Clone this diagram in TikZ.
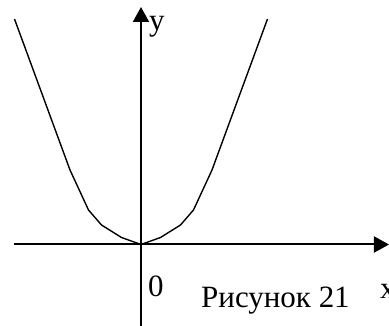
\documentclass[tikz,border=0pt]{standalone}
\usepackage{fontspec}
\setmainfont{Liberation Serif}
\usetikzlibrary{arrows.meta}

\begin{document}
\begin{tikzpicture}[x=1pt, y=1pt,
  axis/.style={-{Triangle[length=15pt, width=16pt]}, line width=2pt},
  curve/.style={line width=1.4pt, line join=round},
  lbl/.style={inner sep=0pt, anchor=base west, font=\fontsize{31}{36}\selectfont}
]
  \useasboundingbox (-141, -81.5) rectangle (248, 244.5);
  \coordinate (o) at (0, 0);
  \coordinate (xl) at (-127, 0);
  \coordinate (xr) at (248, 0);
  \coordinate (yb) at (0, -81.5);
  \coordinate (yt) at (0, 237.5);
  \draw[axis] (xl) -- (xr);
  \draw[axis] (yb) -- (yt);
  % graph
  \draw[curve] (-126.5, 225.5) -- (-71, 74.5) -- (-52.5, 34.5) -- (-39.5, 19.5) -- (-19.5, 7) -- (o)
    -- (19.5, 7) -- (39.5, 19.5) -- (52.5, 34.5) -- (71, 74.5) -- (126.5, 225.5);
  \node[lbl] (ylabel) at (8, 213.5) {y};
  \node[lbl] (zero) at (7, -52.5) {0};
  \node[lbl] (caption) at (60, -63.5) {Рисунок 21};
  \node[lbl] (xlabel) at (239, -54.5) {x};
\end{tikzpicture}
\end{document}
